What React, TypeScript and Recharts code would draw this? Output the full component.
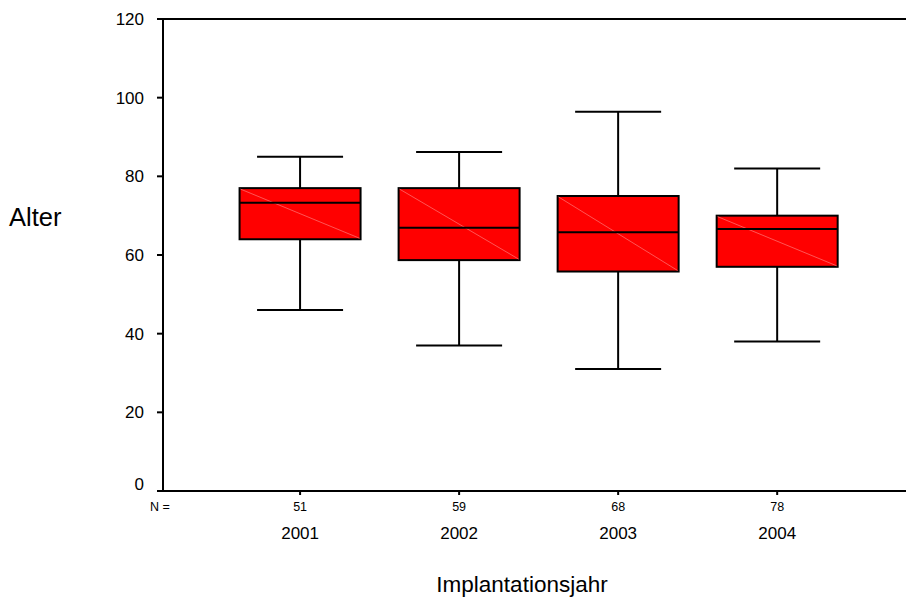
import { ComposedChart, Bar, XAxis, YAxis, ReferenceLine } from "recharts";

const years = ["2001", "2002", "2003", "2004"];
const counts = [51, 59, 68, 78];
const whiskerLow = [46, 37, 31, 38];
const lowerQuartile = [64, 58.7, 55.8, 57];
const medians = [73.3, 66.9, 65.8, 66.6];
const upperQuartile = [77, 77, 75, 70];
const whiskerHigh = [85, 86.2, 96.4, 82];
const yTicks = [0, 20, 40, 60, 80, 100, 120];

const FONT = "'Liberation Sans', Arial, Helvetica, sans-serif";

const data = years.map((year, i) => ({
  pos: i + 1,
  year,
  n: counts[i],
  lo: whiskerLow[i],
  q1: lowerQuartile[i],
  med: medians[i],
  q3: upperQuartile[i],
  hi: whiskerHigh[i],
}));

type BoxProps = {
  x?: number;
  y?: number;
  width?: number;
  height?: number;
  payload?: (typeof data)[number];
};

// whisker-to-whisker bar, reshaped into a box with median line
function BoxShape({ x = 0, y = 0, width = 0, height = 0, payload }: BoxProps) {
  if (!payload) return null;
  const top = Math.min(y, y + height);
  const h = Math.abs(height);
  const span = payload.hi - payload.lo;
  const py = (v: number) => top + ((payload.hi - v) / span) * h;
  const cx = x + width / 2;
  const capHalf = 43;
  const yHi = py(payload.hi);
  const yLo = py(payload.lo);
  const yQ3 = py(payload.q3);
  const yQ1 = py(payload.q1);
  const yMed = py(payload.med);
  return (
    <g>
      <line x1={cx} x2={cx} y1={yHi} y2={yQ3} stroke="#000" strokeWidth={2} />
      <line x1={cx} x2={cx} y1={yQ1} y2={yLo} stroke="#000" strokeWidth={2} />
      <line x1={cx - capHalf} x2={cx + capHalf} y1={yHi} y2={yHi} stroke="#000" strokeWidth={2} />
      <line x1={cx - capHalf} x2={cx + capHalf} y1={yLo} y2={yLo} stroke="#000" strokeWidth={2} />
      <rect x={x} y={yQ3} width={width} height={yQ1 - yQ3} fill="#ff0000" stroke="#000" strokeWidth={2} />
      <line x1={x + 1} y1={yQ3 + 1} x2={x + width - 1} y2={yQ1 - 1} stroke="#ff6a6a" strokeWidth={0.8} />
      <line x1={x} x2={x + width} y1={yMed} y2={yMed} stroke="#000" strokeWidth={2} />
    </g>
  );
}

function YTick({ x, y, payload }: any) {
  const shift = payload.value === 0 ? -7 : 0;
  return (
    <text x={x} y={y + shift} dy="0.355em" textAnchor="end" fontSize={17} fontFamily={FONT} fill="#000">
      {payload.value}
    </text>
  );
}

function XTick({ x, y, payload }: any) {
  const row = data[payload.value - 1];
  if (!row) return null;
  return (
    <g>
      <text x={x} y={y + 16} textAnchor="middle" fontSize={12.5} fontFamily={FONT} fill="#000">
        {row.n}
      </text>
      <text x={x} y={y + 44} textAnchor="middle" fontSize={17} fontFamily={FONT} fill="#000">
        {row.year}
      </text>
    </g>
  );
}

export default function App() {
  return (
    <div style={{ position: "absolute", left: 0, top: 0, width: 906, height: 600, background: "#fff" }}>
      <ComposedChart width={906} height={600} data={data} margin={{ top: 19, right: 0, left: 103, bottom: 0 }}>
        <XAxis
          dataKey="pos"
          type="number"
          domain={[0.138, 4.81]}
          ticks={[1, 2, 3, 4]}
          allowDataOverflow
          height={109}
          tickSize={4}
          tickMargin={0}
          tick={<XTick />}
          axisLine={{ stroke: "#000", strokeWidth: 2 }}
          tickLine={{ stroke: "#000", strokeWidth: 2 }}
        />
        <YAxis
          type="number"
          domain={[0, 120]}
          ticks={yTicks}
          width={60}
          tickSize={6}
          tickMargin={13}
          tick={<YTick />}
          axisLine={{ stroke: "#000", strokeWidth: 2 }}
          tickLine={{ stroke: "#000", strokeWidth: 2 }}
        />
        <ReferenceLine y={120} stroke="#000" strokeWidth={2} />
        <Bar
          dataKey={(d: any) => [d.lo, d.hi]}
          barSize={121}
          shape={(p: any) => <BoxShape {...p} />}
          isAnimationActive={false}
        />
      </ComposedChart>
      <div style={{ position: "absolute", left: 9, top: 202, fontFamily: FONT, fontSize: 25.5, lineHeight: "30px" }}>
        Alter
      </div>
      <div
        style={{
          position: "absolute",
          left: 422,
          width: 200,
          top: 572,
          textAlign: "center",
          fontFamily: FONT,
          fontSize: 22.5,
          lineHeight: "26px",
          whiteSpace: "nowrap",
        }}
      >
        Implantationsjahr
      </div>
      <div style={{ position: "absolute", left: 150, top: 500, fontFamily: FONT, fontSize: 12.5, lineHeight: "14px" }}>
        N =
      </div>
    </div>
  );
}
